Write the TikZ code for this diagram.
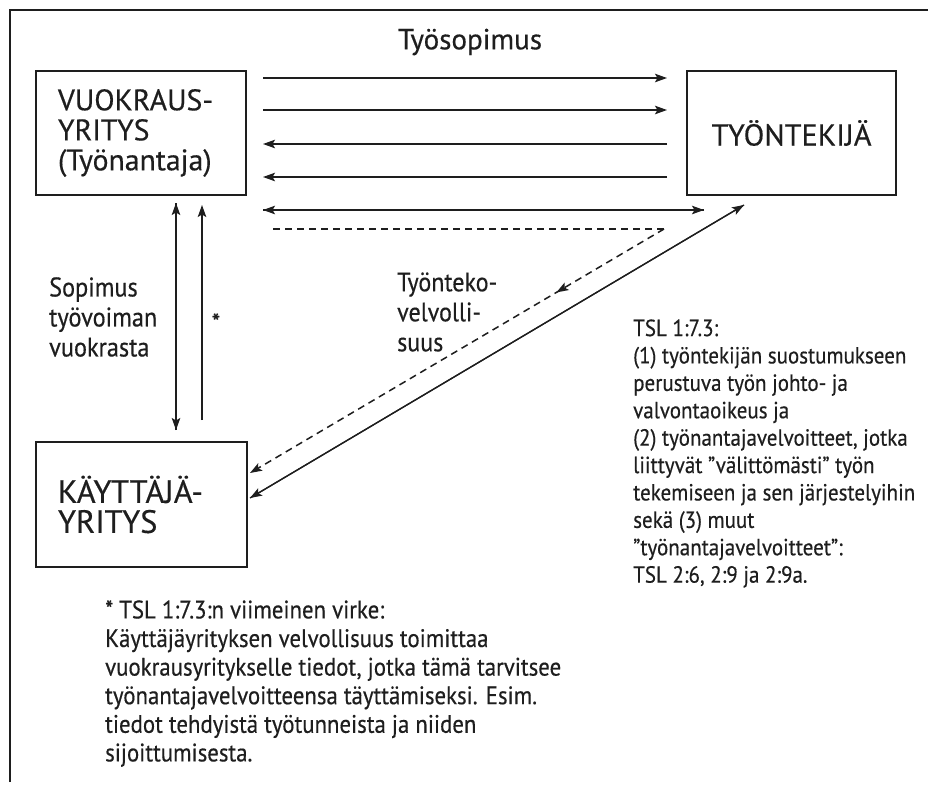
\documentclass[tikz,border=0pt]{standalone}
\usepackage{fontspec}
\setmainfont{PT Sans}
\newfontfamily\regf[FakeBold=0.4]{PT Sans}
\newfontfamily\condf[FakeStretch=0.9, FakeBold=0.4]{PT Sans}
\usetikzlibrary{arrows.meta,decorations.markings}
\definecolor{ink}{HTML}{1E1E1E}
\newlength\fitw
\newcommand\fitfont[4]{\settowidth\fitw{#2\fontsize{10}{12}\selectfont #3}\pgfmathsetmacro#1{10*#4/\fitw}}
\tikzset{
  boxnode/.style={draw=ink, line width=1.5pt, minimum width=210pt, minimum height=124pt, text=ink},
  conn/.style={draw=ink, line width=1.5pt},
  tip/.style={-{Stealth[length=12pt,width=8.5pt,inset=2.5pt]}},
  lbl/.style={text=ink, inner sep=0pt, align=left, anchor=west},
}
\begin{document}
\fitfont\szvuok\regf{VUOKRAUS-}{155}%
\fitfont\sztyon\regf{TYÖNTEKIJÄ}{160}%
\fitfont\szkayt\regf{KÄYTTÄJÄ-}{145}%
\fitfont\sztsop\regf{Työsopimus}{144}%
\fitfont\szsopi\condf{työvoiman}{108}%
\fitfont\sztvel\condf{Työnteko-}{100}%
\fitfont\sztsl\condf{tekemiseen ja sen järjestelyihin}{282}%
\fitfont\sznote\condf{vuokrausyritykselle tiedot, jotka tämä tarvitsee}{456}%
\begin{tikzpicture}[x=1pt,y=-1pt]
\useasboundingbox (0,0) rectangle (928,785);
\fill[white] (0,0) rectangle (928,785);
% frame
\draw[ink, line width=1.5pt] (10,782) -- (10,10) -- (928,10);

% boxes
\node[boxnode, align=left, text width=166pt, inner xsep=22pt, font=\regf\fontsize{\szvuok}{30}\selectfont] (vuok) at (141,133) {VUOKRAUS-\\YRITYS\\(Työnantaja)};
\node[boxnode, minimum width=209pt, font=\regf\fontsize{\sztyon}{30}\selectfont] (tyon) at (791.5,133) {TYÖNTEKIJÄ};
\node[boxnode, minimum width=211pt, minimum height=125pt, align=left, text width=167pt, inner xsep=21pt, font=\regf\fontsize{\szkayt}{30}\selectfont] (kayt) at (141.5,504.5) {KÄYTTÄJÄ-\\YRITYS};

% connector end points
\coordinate (a1s) at (263,78);  \coordinate (a1e) at (667,78);
\coordinate (a2s) at (263,110); \coordinate (a2e) at (667,110);
\coordinate (a3s) at (667,144); \coordinate (a3e) at (263,144);
\coordinate (a4s) at (667,177); \coordinate (a4e) at (263,177);
\coordinate (a5s) at (263,210); \coordinate (a5e) at (704,210);
\coordinate (d1s) at (273,229); \coordinate (d1e) at (664,229);
\coordinate (d2e) at (250,473);
\coordinate (s1a) at (250,498); \coordinate (s1b) at (744,205);
\coordinate (v1a) at (176,203); \coordinate (v1b) at (176,430);
\coordinate (v2a) at (202,420); \coordinate (v2b) at (202,205);

\draw[conn, tip] (a1s) -- (a1e);
\draw[conn, tip] (a2s) -- (a2e);
\draw[conn, tip] (a3s) -- (a3e);
\draw[conn, tip] (a4s) -- (a4e);
\draw[conn, tip] (a5s) -- (a5e);
\draw[conn, tip] (a5e) -- (a5s);
\draw[conn, dash pattern=on 7pt off 5pt] (d1s) -- (d1e);
\draw[conn, dash pattern=on 7pt off 5pt, tip,
  postaction={decorate, decoration={markings, mark=at position 0.26 with {\arrow{Stealth[length=12pt,width=8.5pt,inset=2.5pt]}}}}] (d1e) -- (d2e);
\draw[conn, line width=1.3pt, tip] (s1a) -- (s1b);
\draw[conn, line width=1.3pt, tip] (s1b) -- (s1a);
\draw[conn, tip] (v1a) -- (v1b);
\draw[conn, tip] (v1b) -- (v1a);
\draw[conn, tip] (v2a) -- (v2b);

% labels
\node[text=ink, inner sep=0pt, font=\regf\fontsize{\sztsop}{30}\selectfont] (tsop) at (470,42) {Työsopimus};
\node[lbl, font=\condf\fontsize{\szsopi}{30}\selectfont] (sopi) at (49,317) {Sopimus\\työvoiman\\vuokrasta};
\node[text=ink, inner sep=0pt, font=\regf\fontsize{24}{26}\selectfont] (star) at (216,322) {*};
\node[lbl, font=\condf\fontsize{\sztvel}{30}\selectfont] (tvel) at (397,312) {Työnteko-\\velvolli-\\suus};
\node[lbl, font=\condf\fontsize{\sztsl}{27.4}\selectfont] (tsl) at (633,453.5) {TSL 1:7.3:\\(1) työntekijän suostumukseen\\perustuva työn johto- ja\\valvontaoikeus ja\\(2) työnantajavelvoitteet, jotka\\liittyvät ”välittömästi” työn\\tekemiseen ja sen järjestelyihin\\sekä (3) muut\\”työnantajavelvoitteet”:\\TSL 2:6, 2:9 ja 2:9a.};
\node[lbl, font=\condf\fontsize{\sznote}{28.6}\selectfont] (note) at (105,683.5) {* TSL 1:7.3:n viimeinen virke:\\Käyttäjäyrityksen velvollisuus toimittaa\\vuokrausyritykselle tiedot, jotka tämä tarvitsee\\työnantajavelvoitteensa täyttämiseksi. Esim.\\tiedot tehdyistä työtunneista ja niiden\\sijoittumisesta.};
\end{tikzpicture}
\end{document}
